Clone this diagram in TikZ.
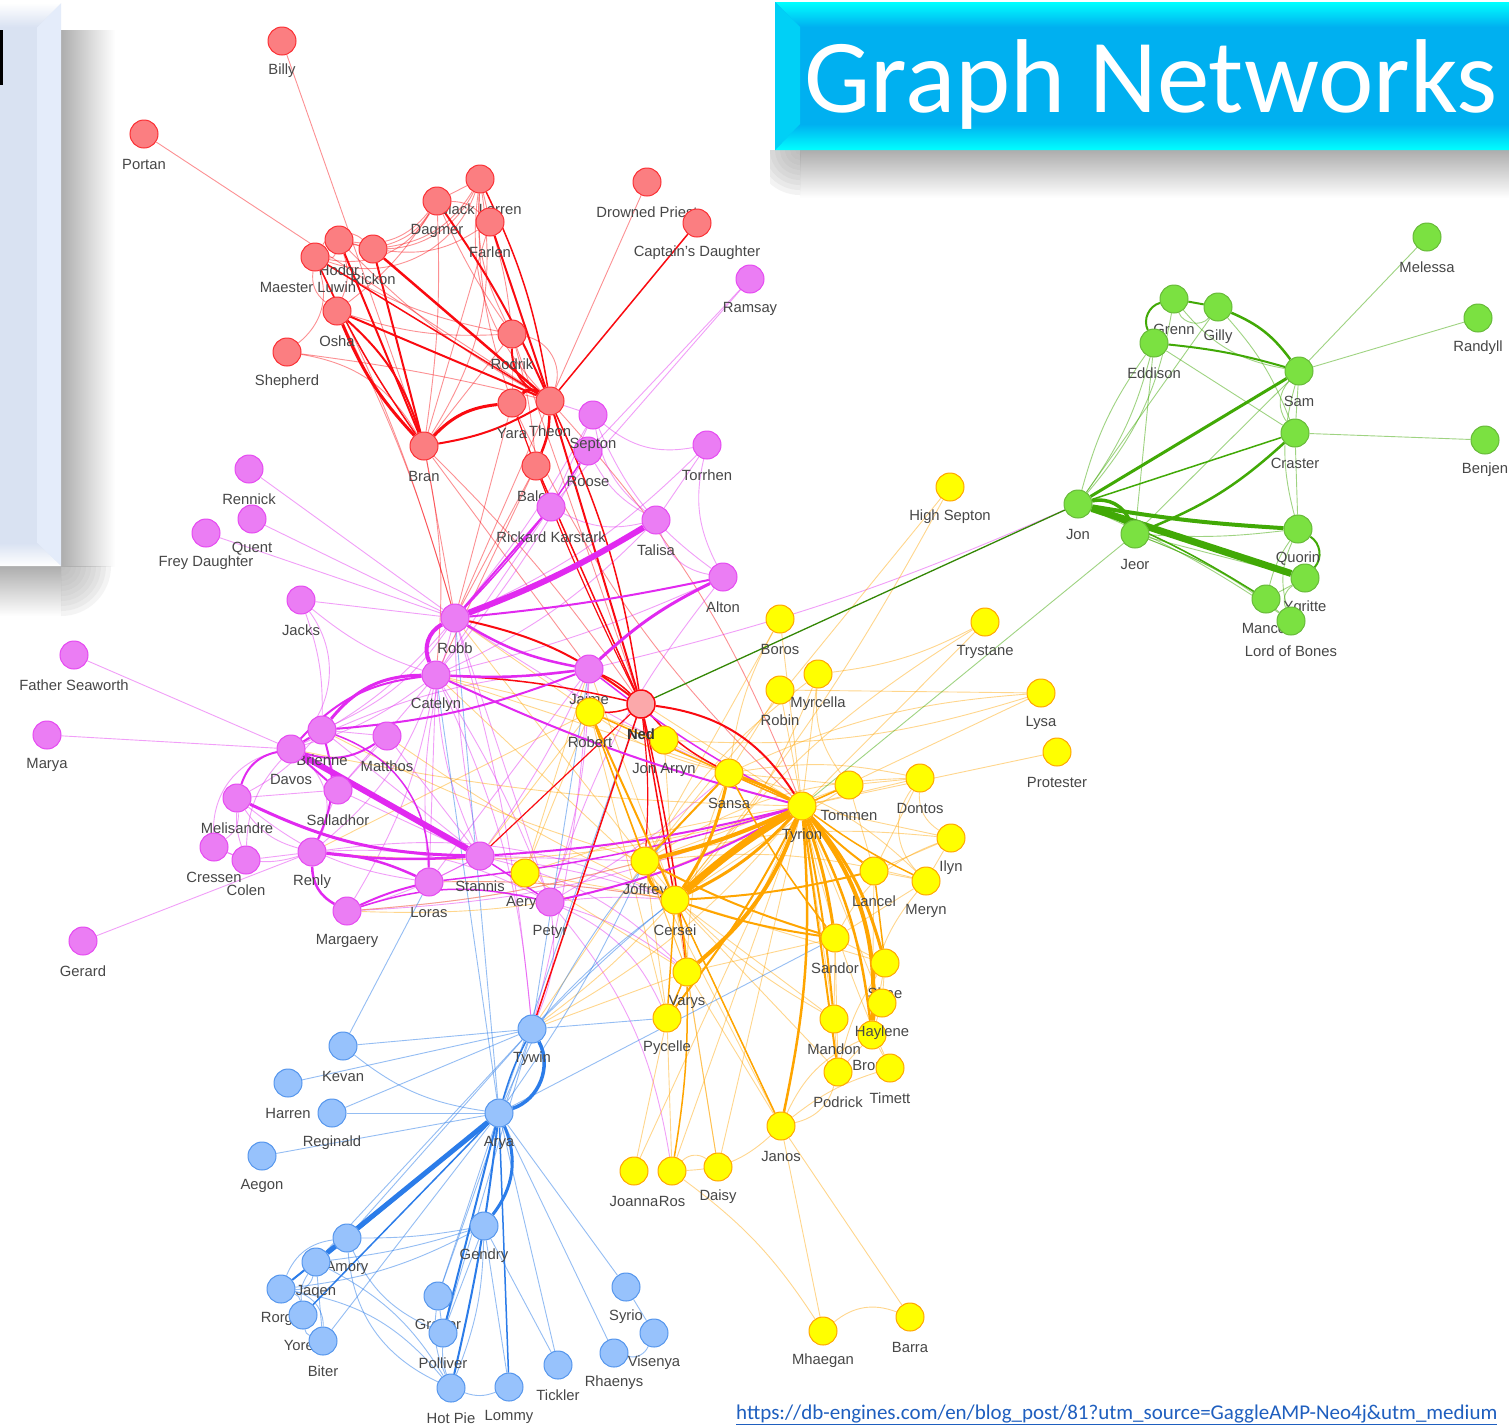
\documentclass[tikz,border=0pt]{standalone}
\usepackage{fontspec}
\setmainfont{Liberation Sans}
\newfontfamily\calfont{Carlito}
\pgfdeclarelayer{back}
\pgfdeclarelayer{edges}
\pgfsetlayers{back,edges,main}
\definecolor{cR}{HTML}{FA0A10}\definecolor{fR}{HTML}{FB7E81}
\definecolor{cY}{HTML}{FFA500}\definecolor{fY}{HTML}{FFFF00}
\definecolor{cG}{HTML}{41A906}\definecolor{fG}{HTML}{7BE141}
\definecolor{cB}{HTML}{2B7CE9}\definecolor{fB}{HTML}{97C2FC}
\definecolor{cM}{HTML}{E129F0}\definecolor{fM}{HTML}{EB7DF4}
\definecolor{fNed}{HTML}{FBA8AA}
\definecolor{titleblue}{HTML}{00B0F0}
\definecolor{titlecyan}{HTML}{00FFFF}
\definecolor{urlblue}{HTML}{1F5FBF}
\definecolor{panel}{HTML}{D9E2F2}
\definecolor{panellight}{HTML}{E4ECFA}
\definecolor{shadowgray}{HTML}{ADADAD}
\tikzset{
 gnode/.style={circle,minimum size=28pt,inner sep=0pt,line width=1pt},
 nR/.style={gnode,fill=fR,draw=cR!85},
 nY/.style={gnode,fill=fY,draw=cY},
 nG/.style={gnode,fill=fG,draw=cG!80},
 nB/.style={gnode,fill=fB,draw=cB!80},
 nM/.style={gnode,fill=fM,draw=cM!85},
 lab/.style={inner sep=0pt,text=black!72,font=\fontsize{14.8}{16}\selectfont},
 er/.style={draw=cR,draw opacity=0.45,line width=0.9pt},
 ER/.style={draw=cR,line width=#1},
 eo/.style={draw=cY,draw opacity=0.45,line width=0.9pt},
 EO/.style={draw=cY,line width=#1},
 eg/.style={draw=cG,draw opacity=0.5,line width=0.9pt},
 EG/.style={draw=cG,line width=#1},
 eb/.style={draw=cB,draw opacity=0.5,line width=0.9pt},
 EB/.style={draw=cB,line width=#1},
 em/.style={draw=cM,draw opacity=0.45,line width=0.9pt},
 EM/.style={draw=cM,line width=#1},
}
\newcommand\gn[5]{\node[#4] (#1) at (#2,#3) {}; \node[lab] (#1l) at (#2,#3+30) {#5};}
\begin{document}
\begin{tikzpicture}[x=1pt,y=-1pt]
\begin{pgfonlayer}{back}
\fill[white] (0,0) rectangle (1509,1425);
% title shadow
\shade[top color=shadowgray,bottom color=white] (800,150) rectangle (1509,198);
\begin{scope}
\clip (770,150) rectangle (800,198);
\foreach \r in {5,10,...,45} \fill[shadowgray,fill opacity=0.14] (800,150) circle (\r);
\end{scope}
% left panel shadow
\shade[left color=shadowgray,right color=white] (61,30) rectangle (115,566);
\shade[top color=shadowgray,bottom color=white] (0,566) rectangle (61,616);
\begin{scope}
\clip (61,566) rectangle (115,616);
\foreach \r in {5,10,...,50} \fill[shadowgray,fill opacity=0.13] (61,566) circle (\r);
\end{scope}
\end{pgfonlayer}
\useasboundingbox (0,0) rectangle (1509,1425);

% ---------------- nodes ----------------
% red
\gn{billy}{282}{41}{nR}{Billy}
\gn{portan}{144}{134}{nR}{Portan}
\gn{lorren}{480}{179}{nR}{Black Lorren}
\gn{dagmer}{437}{201}{nR}{Dagmer}
\gn{farlen}{490}{222}{nR}{Farlen}
\gn{hodor}{339}{240}{nR}{Hodor}
\node[nR] (luwin) at (315,257) {}; \node[lab] (luwinl) at (308,287) {Maester Luwin};
\gn{rickon}{373}{249}{nR}{Rickon}
\gn{osha}{337}{311}{nR}{Osha}
\gn{shepherd}{287}{352}{nR}{Shepherd}
\gn{rodrik}{512}{334}{nR}{Rodrik}
\gn{priest}{647}{182}{nR}{Drowned Priest}
\gn{captd}{697}{223}{nR}{Captain's Daughter}
\gn{yara}{512}{403}{nR}{Yara}
\gn{theon}{550}{401}{nR}{Theon}
\gn{bran}{424}{446}{nR}{Bran}
\gn{balon}{536}{466}{nR}{Balon}
% magenta
\gn{ramsay}{750}{279}{nM}{Ramsay}
\gn{roose}{588}{451}{nM}{Roose}
\gn{septon}{593}{415}{nM}{Septon}
\gn{torrhen}{707}{445}{nM}{Torrhen}
\gn{karstark}{551}{507}{nM}{Rickard Karstark}
\gn{talisa}{656}{520}{nM}{Talisa}
\gn{alton}{723}{577}{nM}{Alton}
\gn{rennick}{249}{469}{nM}{Rennick}
\gn{quent}{252}{519}{nM}{Quent}
\gn{freyd}{206}{533}{nM}{Frey Daughter}
\gn{jacks}{301}{600}{nM}{Jacks}
\gn{robb}{455}{618}{nM}{Robb}
\gn{catelyn}{436}{675}{nM}{Catelyn}
\gn{jaime}{589}{669}{nM}{Jaime}
\gn{seaworth}{74}{655}{nM}{Father Seaworth}
\gn{marya}{47}{735}{nM}{Marya}
\gn{brienne}{322}{730}{nM}{Brienne}
\gn{davos}{291}{749}{nM}{Davos}
\gn{matthos}{387}{736}{nM}{Matthos}
\gn{salladhor}{338}{790}{nM}{Salladhor}
\gn{melisandre}{237}{798}{nM}{Melisandre}
\gn{cressen}{214}{847}{nM}{Cressen}
\gn{colen}{246}{860}{nM}{Colen}
\gn{renly}{312}{852}{nM}{Renly}
\gn{stannis}{480}{856}{nM}{Stannis}
\gn{loras}{429}{882}{nM}{Loras}
\gn{margaery}{347}{911}{nM}{Margaery}
\gn{gerard}{83}{941}{nM}{Gerard}
% yellow
\gn{hsepton}{950}{487}{nY}{High Septon}
\gn{boros}{780}{619}{nY}{Boros}
\gn{trystane}{985}{622}{nY}{Trystane}
\gn{robin}{780}{690}{nY}{Robin}
\gn{myrcella}{818}{674}{nY}{Myrcella}
\gn{lysa}{1041}{693}{nY}{Lysa}
\gn{protester}{1057}{752}{nY}{Protester}
\gn{robert}{590}{712}{nY}{Robert}
\gn{jonarryn}{664}{740}{nY}{Jon Arryn}
\gn{sansa}{729}{773}{nY}{Sansa}
\gn{tommen}{849}{785}{nY}{Tommen}
\gn{tyrion}{802}{806}{nY}{Tyrion}
\gn{dontos}{920}{778}{nY}{Dontos}
\gn{ilyn}{951}{838}{nY}{Ilyn}
\gn{joffrey}{645}{861}{nY}{Joffrey}
\gn{aerys}{525}{873}{nY}{Aerys}
\gn{cersei}{675}{900}{nY}{Cersei}
\gn{lancel}{874}{871}{nY}{Lancel}
\gn{meryn}{926}{881}{nY}{Meryn}
\gn{sandor}{835}{938}{nY}{Sandor}
\gn{varys}{687}{972}{nY}{Varys}
\gn{shae}{885}{963}{nY}{Shae}
\gn{mandon}{834}{1019}{nY}{Mandon}
\gn{bronn}{872}{1035}{nY}{Bronn}
\gn{haylene}{882}{1003}{nY}{Haylene}
\gn{podrick}{838}{1072}{nY}{Podrick}
\gn{timett}{890}{1068}{nY}{Timett}
\gn{pycelle}{667}{1018}{nY}{Pycelle}
\gn{janos}{781}{1126}{nY}{Janos}
\gn{joanna}{634}{1171}{nY}{Joanna}
\gn{ros}{672}{1171}{nY}{Ros}
\gn{daisy}{718}{1167}{nY}{Daisy}
\gn{mhaegan}{823}{1331}{nY}{Mhaegan}
\gn{barra}{910}{1317}{nY}{Barra}
% magenta drawn late
\gn{petyr}{550}{902}{nM}{Petyr}
% green
\gn{melessa}{1427}{237}{nG}{Melessa}
\gn{randyll}{1478}{318}{nG}{Randyll}
\gn{grenn}{1174}{299}{nG}{Grenn}
\gn{gilly}{1218}{307}{nG}{Gilly}
\gn{eddison}{1154}{343}{nG}{Eddison}
\gn{sam}{1299}{371}{nG}{Sam}
\gn{craster}{1295}{433}{nG}{Craster}
\gn{benjen}{1485}{440}{nG}{Benjen}
\gn{jon}{1078}{504}{nG}{Jon}
\gn{jeor}{1135}{534}{nG}{Jeor}
\gn{quorin}{1298}{529}{nG}{Quorin}
\gn{ygritte}{1305}{578}{nG}{Ygritte}
\node[nG] (mance) at (1266,599) {}; \node[lab] (mancel) at (1264,628) {Mance};
\gn{bones}{1291}{621}{nG}{Lord of Bones}
% blue
\gn{kevan}{343}{1046}{nB}{Kevan}
\gn{harren}{288}{1083}{nB}{Harren}
\gn{reginald}{332}{1113}{nB}{Reginald}
\gn{aegon}{262}{1156}{nB}{Aegon}
\gn{tywin}{532}{1029}{nB}{Tywin}
\gn{arya}{499}{1113}{nB}{Arya}
\gn{gendry}{484}{1226}{nB}{Gendry}
\gn{amory}{347}{1238}{nB}{Amory}
\gn{jaqen}{316}{1262}{nB}{Jaqen}
\gn{rorge}{281}{1289}{nB}{Rorge}
\gn{yoren}{303}{1315}{nB}{Yoren}
\gn{biter}{323}{1341}{nB}{Biter}
\gn{gregor}{438}{1296}{nB}{Gregor}
\gn{polliver}{443}{1333}{nB}{Polliver}
\gn{hotpie}{451}{1388}{nB}{Hot Pie}
\gn{lommy}{509}{1387}{nB}{Lommy}
\gn{tickler}{558}{1365}{nB}{Tickler}
\gn{syrio}{626}{1287}{nB}{Syrio}
\gn{rhaenys}{614}{1353}{nB}{Rhaenys}
\gn{visenya}{654}{1333}{nB}{Visenya}
% Ned
\node[gnode,fill=fNed,draw=cR,line width=1.5pt] (ned) at (641,704) {};
\node[lab,font=\bfseries\fontsize{14.8}{16}\selectfont,text=black!80] (nedl) at (641,734) {Ned};

% ---------------- edges ----------------
\begin{pgfonlayer}{edges}
% thin edges
\foreach \a/\b/\c in {billy/bran/0, portan/theon/0, priest/theon/0, shepherd/theon/3, shepherd/bran/25,
 hodor/luwin/40, hodor/rickon/0, hodor/osha/20, luwin/osha/-30, luwin/rickon/50, hodor/dagmer/-30,
 luwin/dagmer/-35, rickon/dagmer/-20, hodor/lorren/-40, luwin/lorren/-45, rickon/lorren/-25,
 dagmer/lorren/0, dagmer/farlen/20, lorren/farlen/0, hodor/theon/-8, luwin/rodrik/-10, osha/rodrik/-10,
 dagmer/rodrik/-5, lorren/rodrik/-15, farlen/rodrik/5, dagmer/bran/5, farlen/bran/0, lorren/bran/20,
 rodrik/bran/0, rodrik/balon/5, luwin/shepherd/35, bran/robb/0, bran/catelyn/8, luwin/robb/5,
 osha/robb/5, bran/jaime/0, theon/robb/0, yara/robb/0, lorren/yara/-10, rodrik/yara/0, bran/ned/5,
 rodrik/ned/0, yara/tyrion/-10, theon/tyrion/10, balon/catelyn/0, rickon/farlen/-20, dagmer/osha/10,
 lorren/theon/-25, theon/rodrik/-50, balon/robb/0}
 \draw[er] (\a) to[bend left=\c] (\b);
\foreach \a/\b/\c in {rennick/robb/0, quent/robb/0, freyd/robb/0, jacks/robb/0, jacks/catelyn/-10,
 jacks/davos/40, seaworth/davos/0, marya/davos/0, gerard/renly/0, ramsay/roose/0, septon/robb/5,
 septon/talisa/-20, septon/torrhen/-25, torrhen/talisa/0, torrhen/alton/-20, torrhen/robb/10,
 talisa/alton/-30, talisa/catelyn/10, talisa/karstark/20, karstark/catelyn/0, roose/talisa/-15,
 roose/catelyn/5, alton/catelyn/5, septon/theon/0, karstark/septon/0, catelyn/stannis/-10,
 catelyn/petyr/5, catelyn/davos/10, catelyn/salladhor/0, catelyn/renly/15, catelyn/tywin/10,
 robb/stannis/-5, robb/petyr/0, robb/tywin/5, robb/brienne/15, robb/davos/10, jaime/stannis/5,
 jaime/davos/-10, jaime/petyr/8, jaime/tywin/5, jaime/loras/0, brienne/melisandre/10,
 brienne/salladhor/0, brienne/matthos/0, matthos/stannis/0, salladhor/stannis/0,
 salladhor/melisandre/0, melisandre/cressen/30, cressen/colen/0, cressen/renly/-20, colen/renly/0,
 colen/melisandre/10, renly/salladhor/0, margaery/stannis/-5, margaery/tyrion/-10, loras/stannis/0,
 loras/cersei/5, petyr/sansa/-5, petyr/cersei/5, petyr/varys/10, petyr/tywin/15, petyr/ros/15,
 stannis/varys/15, stannis/joffrey/0, robb/tyrion/-5, renly/cersei/15, petyr/pycelle/20,
 margaery/joffrey/-5, stannis/cersei/5, davos/renly/40, brienne/stannis/0, melisandre/renly/-20,
 jacks/brienne/10, davos/cressen/-40, davos/colen/-20, matthos/salladhor/0, melisandre/loras/-15,
 renly/petyr/15, catelyn/loras/0, catelyn/margaery/10, robb/loras/-10, alton/petyr/-10,
 jon/jaime/5, septon/alton/-15, ramsay/karstark/0}
 \draw[em] (\a) to[bend left=\c] (\b);
\foreach \a/\b/\c in {hsepton/joffrey/0, hsepton/cersei/5, boros/joffrey/0, boros/sansa/-10,
 trystane/tyrion/0, trystane/myrcella/10, myrcella/tyrion/0, myrcella/cersei/10, robin/tyrion/0,
 robin/lysa/0, lysa/tyrion/0, lysa/sansa/-10, protester/tyrion/0, dontos/sansa/-10, dontos/tyrion/0,
 dontos/joffrey/-15, ilyn/tyrion/0, ilyn/joffrey/-10, meryn/joffrey/-10, meryn/sansa/-15,
 tommen/cersei/0, tommen/joffrey/0, tommen/myrcella/20, sandor/varys/0, mandon/tyrion/0,
 mandon/joffrey/10, haylene/tyrion/0, timett/tyrion/5, timett/bronn/0, podrick/bronn/0,
 podrick/shae/10, haylene/shae/0, jonarryn/robert/0, jonarryn/cersei/0, jonarryn/lysa/-10,
 jonarryn/sansa/0, robert/sansa/-10, robert/joffrey/0, robert/varys/0, robert/pycelle/0, robb/robert/0,
 robert/stannis/0, robert/renly/0, robert/catelyn/0, aerys/tyrion/5, aerys/cersei/0, aerys/jaime/0,
 aerys/robert/0, aerys/varys/0, joanna/tyrion/0, ros/tyrion/0, daisy/ros/-40, janos/ros/20,
 janos/mhaegan/0, janos/barra/0, mhaegan/barra/30, ros/mhaegan/10, janos/bronn/20, janos/podrick/-30,
 janos/timett/10, janos/varys/0, pycelle/varys/0, varys/sansa/10, sansa/tommen/0, tyrion/tywin/10,
 cersei/tywin/5, joffrey/tywin/0, varys/tywin/0, tyrion/davos/5, joffrey/brienne/5, cersei/matthos/5,
 tyrion/renly/10, cersei/loras/-5, tyrion/margaery/15, joffrey/margaery/5, tyrion/jaime/0,
 cersei/jaime/0, robb/joffrey/0, cersei/catelyn/0, sansa/catelyn/0, sandor/shae/0, sandor/meryn/0,
 lancel/meryn/0, lancel/ilyn/0, lancel/bronn/0, shae/bronn/0, haylene/bronn/0, meryn/bronn/-20,
 sandor/mandon/0, sandor/podrick/0, ilyn/meryn/0, dontos/lancel/0, dontos/ilyn/-30, tommen/lancel/0,
 tommen/dontos/0, mandon/podrick/0, cersei/mandon/0, cersei/shae/0, cersei/podrick/0, cersei/janos/0,
 joffrey/janos/0, joffrey/pycelle/0, joffrey/varys/0, cersei/daisy/0, pycelle/ros/0, pycelle/joanna/0,
 varys/daisy/0, tyrion/daisy/0, boros/tyrion/0, robin/sansa/0, myrcella/joffrey/-10, ilyn/sandor/-20,
 dontos/meryn/-40, trystane/cersei/-10}
 \draw[eo] (\a) to[bend left=\c] (\b);
\foreach \a/\b/\c in {jon/eddison/-10, jon/eddison/10, jon/grenn/-15, jon/gilly/0, jon/bones/5,
 jeor/eddison/0, jeor/sam/0, jeor/quorin/-5, jeor/mance/5, jeor/bones/8, jeor/ygritte/0,
 sam/melessa/0, sam/randyll/0, sam/craster/-40, sam/craster/0, craster/benjen/0, craster/gilly/-10,
 craster/quorin/0, sam/quorin/-15, eddison/craster/0, ygritte/bones/-40, ygritte/mance/0,
 quorin/mance/-10, quorin/bones/-20, grenn/gilly/-60, grenn/sam/-20, jon/mance/5, jeor/tyrion/0}
 \draw[eg] (\a) to[bend left=\c] (\b);
\foreach \a/\b/\c in {tywin/kevan/0, tywin/harren/0, tywin/reginald/0, tywin/tyrion/5, tywin/cersei/5,
 arya/ned/0, arya/catelyn/0, arya/robb/0, arya/sansa/10, arya/sandor/0, arya/joffrey/-5, arya/syrio/0,
 arya/rhaenys/0, arya/tickler/0, arya/gregor/0, arya/biter/0, arya/kevan/15, arya/reginald/0,
 arya/aegon/0, kevan/loras/0, gendry/hotpie/10, gendry/lommy/0, gendry/amory/5, gendry/jaqen/5,
 gendry/rorge/10, gendry/polliver/0, gendry/tickler/0, amory/jaqen/0, amory/polliver/-20,
 amory/hotpie/-30, jaqen/rorge/40, jaqen/biter/0, rorge/yoren/30, biter/yoren/30, rorge/biter/40,
 hotpie/lommy/-20, hotpie/polliver/10, gregor/polliver/0, gregor/hotpie/-15, syrio/visenya/0,
 rhaenys/visenya/-40, tywin/amory/0, tywin/gregor/0, tywin/polliver/0, tywin/jaqen/0, tywin/pycelle/0,
 jaqen/hotpie/15, rorge/hotpie/20, amory/rorge/-30, jaqen/yoren/-20, tywin/jaime/0}
 \draw[eb] (\a) to[bend left=\c] (\b);
% thick edges
\foreach \a/\b/\w/\c in {bran/yara/3/20, bran/theon/2/-10, bran/osha/3/10, bran/osha/2/-15,
 bran/hodor/2/0, bran/rickon/2/0, bran/luwin/1.5/5, theon/rickon/2.5/0, theon/osha/2/0,
 theon/luwin/1.5/0, theon/rodrik/2/30, theon/farlen/2/0, theon/dagmer/2/-5, theon/lorren/1.5/-8,
 theon/yara/3/-40, theon/balon/2.5/10, theon/captd/1.5/0, theon/ned/2/0, theon/ned/1.5/8,
 balon/ned/1.5/0, yara/ned/1.2/-3, ned/robb/2/-12, ned/tyrion/2/25, ned/sansa/1.5/-10,
 ned/cersei/1.5/0, ned/varys/1.5/3, ned/tywin/1.5/0, ned/joffrey/1.2/5, ned/robert/1.5/10,
 ned/stannis/1.2/0, ned/jaime/1.5/-10, ned/catelyn/1.5/-5}
 \draw[ER=\w] (\a) to[bend left=\c] (\b);
\foreach \a/\b/\w/\c in {robb/talisa/6/-5, robb/catelyn/4/-45, robb/jaime/2.5/-10, robb/alton/2/-3,
 robb/karstark/2/0, robb/roose/1.5/-5, catelyn/brienne/3/-25, catelyn/jaime/2.5/-5,
 catelyn/tyrion/2/-5, jaime/alton/3/8, jaime/brienne/2/8, jaime/tyrion/1.5/-5, davos/stannis/6/0,
 melisandre/stannis/3/-12, renly/stannis/2.5/-5, renly/loras/2.5/10, loras/margaery/2/-5,
 renly/margaery/2.5/-30, brienne/renly/2/20, davos/salladhor/2/0, davos/matthos/2/-25,
 melisandre/davos/2/30, brienne/davos/2/0, stannis/tyrion/2/-5, petyr/tyrion/2/-8,
 loras/tyrion/1.5/-5, stannis/petyr/1.5/0, margaery/petyr/1.5/15, loras/brienne/1.5/-35,
 catelyn/davos/2/-20}
 \draw[EM=\w] (\a) to[bend left=\c] (\b);
\foreach \a/\b/\w/\c in {tyrion/cersei/7/-5, tyrion/cersei/3/10, tyrion/joffrey/4/5, tyrion/sansa/3/-5,
 tyrion/varys/4/15, tyrion/bronn/4/20, tyrion/bronn/2.5/10, tyrion/shae/3/12, tyrion/sandor/3/5,
 tyrion/podrick/2/0, tyrion/lancel/2/-5, tyrion/janos/2.5/8, tyrion/pycelle/2/5, tyrion/tommen/1.5/0,
 tyrion/meryn/1.5/-5, cersei/joffrey/3/25, cersei/sansa/3/-10, cersei/varys/2/5, cersei/sandor/2/-5,
 cersei/robert/2/0, cersei/pycelle/1.5/0, cersei/lancel/2/-5, joffrey/sansa/2/0, joffrey/sandor/2/-5,
 joffrey/robert/1.5/0, sansa/sandor/1.5/-5, lancel/shae/1.5/0, varys/pycelle/1.5/0, varys/ros/1.5/5,
 tyrion/robert/1.5/0, janos/cersei/1.5/0, tyrion/mandon/2/3}
 \draw[EO=\w] (\a) to[bend left=\c] (\b);
\foreach \a/\b/\w/\c in {jon/ygritte/7/0, jon/quorin/4/-3, jon/jeor/3.5/40, jon/sam/3/0,
 jon/craster/1.5/0, jeor/craster/2.5/-10, sam/gilly/2.5/-15, sam/eddison/2/-5, grenn/gilly/2/0,
 grenn/eddison/2/-50, quorin/ygritte/2/50, jon/mance/1.5/5}
 \draw[EG=\w] (\a) to[bend left=\c] (\b);
\foreach \a/\b/\w/\c in {arya/jaqen/5/0, arya/amory/3/0, arya/rorge/2/0, arya/gendry/3/30,
 arya/tywin/3.5/-50, arya/hotpie/2/3, arya/polliver/2/0, arya/lommy/1.5/0, arya/yoren/1.5/0,
 arya/tywin/1.5/5}
 \draw[EB=\w] (\a) to[bend left=\c] (\b);
\draw[draw=cG!80!black,line width=1.3pt] (ned) -- (jon);
\end{pgfonlayer}

% ---------------- title box ----------------
\fill[titleblue] (775,2) rectangle (1509,150);
\shade[top color=titlecyan,bottom color=titleblue] (775,2) -- (1509,2) -- (1509,27) -- (800,27) -- cycle;
\shade[top color=titleblue,bottom color=titlecyan] (800,124) -- (1509,124) -- (1509,150) -- (775,150) -- cycle;
\fill[titleblue!60!titlecyan] (775,2) -- (800,27) -- (800,124) -- (775,150) -- cycle;
\node[anchor=base west,inner sep=0pt,text=white,font=\calfont\fontsize{105}{105}\selectfont] (title) at (804,112) {Graph Networks};

% ---------------- left panel ----------------
\fill[panel] (0,3) rectangle (61,566);
\fill[panellight] (37,27) -- (61,3) -- (61,566) -- (37,543) -- cycle;
\shade[top color=white,bottom color=panel] (0,3) -- (61,3) -- (37,27) -- (0,27) -- cycle;
\shade[top color=panel,bottom color=white] (0,543) -- (37,543) -- (61,566) -- (0,566) -- cycle;
\fill[black] (0,30) rectangle (3,85);

% ---------------- url ----------------
\node[anchor=base west,inner sep=0pt,text=urlblue,font=\calfont\fontsize{21}{24}\selectfont] (url) at (736,1419)
 {\underline{https://db-engines.com/en/blog\_post/81?utm\_source=GaggleAMP-Neo4j\&utm\_medium}};
\end{tikzpicture}
\end{document}
